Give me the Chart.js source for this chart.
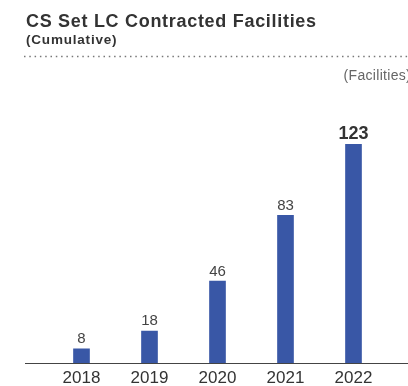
<!DOCTYPE html>
<html>
<head>
<meta charset="utf-8">
<script src="https://cdn.jsdelivr.net/npm/chart.js@4"></script>
<style>
  html, body { margin: 0; padding: 0; background: #fff; }
  #wrap { width: 408px; height: 386px; position: relative; }
</style>
</head>
<body>
<div id="wrap"><canvas id="chart"></canvas></div>
<script>
// Cumulative number of CS Set LC contracted facilities per year
const categories = ['2018', '2019', '2020', '2021', '2022'];
const facilities = [8, 18, 46, 83, 123];
const highlightIndex = 4; // latest year gets the emphasised label

const titleText = 'CS Set LC Contracted Facilities';
const subtitleText = '(Cumulative)';
const unitText = '(Facilities)';

const FONT = '"Liberation Sans", Arial, Helvetica, sans-serif';
const BAR_COLOR = '#3957a6';

const decorations = {
  id: 'decorations',
  beforeDraw(chart) {
    const ctx = chart.ctx;
    ctx.save();
    ctx.fillStyle = '#333';
    ctx.textAlign = 'left';
    ctx.textBaseline = 'alphabetic';
    ctx.letterSpacing = '0.7px';
    ctx.font = 'bold 18px ' + FONT;
    ctx.fillText(titleText, 26, 27);
    ctx.font = 'bold 13.5px ' + FONT;
    ctx.letterSpacing = '0.8px';
    ctx.fillText(subtitleText, 26, 44);
    ctx.letterSpacing = '0px';

    // dotted separator under the heading
    ctx.strokeStyle = '#777';
    ctx.lineWidth = 1.5;
    ctx.setLineDash([1.5, 3.8]);
    ctx.beginPath();
    ctx.moveTo(24, 56.5);
    ctx.lineTo(408, 56.5);
    ctx.stroke();
    ctx.setLineDash([]);

    // unit note
    ctx.fillStyle = '#666';
    ctx.font = '14px ' + FONT;
    ctx.textAlign = 'right';
    ctx.letterSpacing = '0.3px';
    ctx.fillText(unitText, 411, 79.5);
    ctx.letterSpacing = '0px';
    ctx.restore();
  },
  afterDatasetsDraw(chart) {
    const ctx = chart.ctx;
    const yScale = chart.scales.y;
    const base = Math.round(yScale.getPixelForValue(0)) + 0.5;
    ctx.save();
    // baseline spanning the full width
    ctx.strokeStyle = '#444';
    ctx.lineWidth = 1;
    ctx.beginPath();
    ctx.moveTo(25, base);
    ctx.lineTo(408, base);
    ctx.stroke();

    // value labels above each bar
    const meta = chart.getDatasetMeta(0);
    ctx.textAlign = 'center';
    ctx.textBaseline = 'alphabetic';
    meta.data.forEach((bar, i) => {
      const v = chart.data.datasets[0].data[i];
      if (i === highlightIndex) {
        ctx.font = 'bold 18px ' + FONT;
        ctx.fillStyle = '#333';
        ctx.fillText(String(v), bar.x, bar.y - 5);
      } else {
        ctx.font = '15px ' + FONT;
        ctx.fillStyle = '#444';
        ctx.fillText(String(v), bar.x, bar.y - 5.5);
      }
    });
    ctx.restore();
  }
};

new Chart(document.getElementById('chart'), {
  type: 'bar',
  data: {
    labels: categories,
    datasets: [{
      data: facilities,
      backgroundColor: BAR_COLOR,
      borderWidth: 0,
      barThickness: 16
    }]
  },
  options: {
    responsive: true,
    maintainAspectRatio: false,
    animation: false,
    layout: { padding: { left: 47.5, right: 20.5, top: 114, bottom: 0 } },
    plugins: {
      legend: { display: false },
      tooltip: { enabled: false },
      title: { display: false }
    },
    scales: {
      x: {
        grid: { display: false, drawTicks: false },
        border: { display: false },
        ticks: {
          color: '#333',
          font: { family: FONT, size: 17 },
          padding: 5.5
        },
        afterFit(scale) { scale.height = 23; }
      },
      y: {
        display: false,
        min: 0,
        max: 140
      }
    }
  },
  plugins: [decorations]
});
</script>
</body>
</html>
